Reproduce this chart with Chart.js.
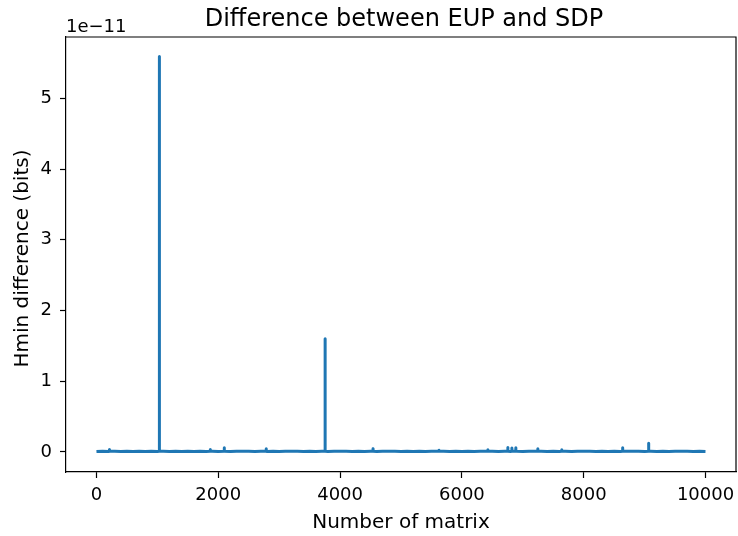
<!DOCTYPE html>
<html lang="en">
<head>
    <meta charset="UTF-8">
    <title>Difference between EUP and SDP</title>
    <script src="https://cdn.jsdelivr.net/npm/chart.js"></script>
    <style>
        body { margin: 0; background: #fff; }
        #wrap { width: 738px; height: 536px; }
    </style>
</head>
<body>
<div id="wrap"><canvas id="diffChart" width="738" height="536"></canvas></div>
<script>
    // values in units of 1e-11 bits
    // baseline, sampled every 100 matrices
    const baseX = [];
    for (let i = 0; i <= 99; i++) baseX.push(i * 100);
    baseX.push(9999);
    const baseY = [
        0.006, 0.010, 0.007, 0.011, 0.008, 0.010, 0.006, 0.012, 0.008, 0.010,
        0.007, 0.011, 0.008, 0.009, 0.006, 0.011, 0.008, 0.010, 0.007, 0.012,
        0.008, 0.010, 0.006, 0.011, 0.009, 0.010, 0.007, 0.011, 0.008, 0.012,
        0.006, 0.010, 0.009, 0.011, 0.007, 0.010, 0.008, 0.012, 0.006, 0.011,
        0.009, 0.010, 0.007, 0.011, 0.008, 0.010, 0.006, 0.012, 0.009, 0.010,
        0.007, 0.011, 0.008, 0.010, 0.006, 0.011, 0.009, 0.012, 0.007, 0.010,
        0.008, 0.011, 0.006, 0.010, 0.009, 0.012, 0.007, 0.010, 0.008, 0.011,
        0.006, 0.012, 0.009, 0.010, 0.007, 0.011, 0.008, 0.010, 0.006, 0.012,
        0.009, 0.010, 0.007, 0.011, 0.008, 0.012, 0.006, 0.010, 0.009, 0.011,
        0.007, 0.010, 0.008, 0.012, 0.006, 0.010, 0.009, 0.011, 0.007, 0.010,
        0.008
    ];
    // spikes (with neighbouring baseline samples)
    const spikeX = [212, 213, 214, 1868, 1869, 1870, 2097, 2098, 2099, 2786, 2787, 2788,
                    1032, 1033, 1034, 3753, 3754, 3755, 4540, 4541, 4542, 5622, 5623, 5624,
                    6425, 6426, 6427, 6753, 6754, 6755, 6819, 6820, 6821, 6884, 6885, 6886,
                    7245, 7246, 7247, 7638, 7639, 7640, 8638, 8639, 8640, 9065, 9066, 9067];
    const spikeY = [0.01, 0.035, 0.01, 0.01, 0.035, 0.01, 0.01, 0.06, 0.01, 0.01, 0.045, 0.01,
                    0.01, 5.59, 0.01, 0.01, 1.60, 0.01, 0.01, 0.045, 0.01, 0.01, 0.025, 0.01,
                    0.01, 0.03, 0.01, 0.01, 0.065, 0.01, 0.01, 0.055, 0.01, 0.01, 0.06, 0.01,
                    0.01, 0.045, 0.01, 0.01, 0.03, 0.01, 0.01, 0.06, 0.01, 0.01, 0.125, 0.01];

    const xTicks = [0, 2000, 4000, 6000, 8000, 10000];
    const yTicks = [0, 1, 2, 3, 4, 5];

    const points = baseX.map((x, i) => ({ x: x, y: baseY[i] }))
        .concat(spikeX.map((x, i) => ({ x: x, y: spikeY[i] })))
        .sort((a, b) => a.x - b.x);

    const FONT = "'DejaVu Sans', sans-serif";

    // title, axis labels, offset text and top/right spines
    const decor = {
        id: 'decor',
        afterDraw(chart) {
            const c = chart.ctx, a = chart.chartArea;
            c.save();
            c.strokeStyle = '#000';
            c.lineWidth = 1.2;
            c.beginPath();
            c.moveTo(a.left, a.top); c.lineTo(a.right, a.top); c.lineTo(a.right, a.bottom);
            c.stroke();

            c.fillStyle = '#000';
            c.textAlign = 'center';
            c.textBaseline = 'alphabetic';
            c.font = '24px ' + FONT;
            c.fillText('Difference between EUP and SDP', (a.left + a.right) / 2 + 3, 26);

            c.font = '20px ' + FONT;
            c.fillText('Number of matrix', (a.left + a.right) / 2, 528);

            c.font = '18px ' + FONT;
            c.textAlign = 'left';
            c.fillText('1e\u221211', 66, 32);

            c.font = '20px ' + FONT;
            c.translate(28, (a.top + a.bottom) / 2 + 4);
            c.rotate(-Math.PI / 2);
            c.textAlign = 'center';
            c.fillText('Hmin difference (bits)', 0, 0);
            c.restore();
        }
    };

    new Chart(document.getElementById('diffChart'), {
        type: 'line',
        data: {
            datasets: [{
                data: points,
                borderColor: '#1f77b4',
                borderWidth: 3,
                borderJoinStyle: 'round',
                pointRadius: 0,
                tension: 0,
                fill: false
            }]
        },
        options: {
            responsive: false,
            animation: false,
            devicePixelRatio: 1,
            layout: { padding: { top: 37, right: 2, left: 0, bottom: 0 } },
            plugins: { legend: { display: false }, tooltip: { enabled: false } },
            scales: {
                x: {
                    type: 'linear',
                    min: -500,
                    max: 10500,
                    afterBuildTicks: axis => { axis.ticks = xTicks.map(v => ({ value: v })); },
                    afterFit: axis => { axis.height = 64; axis.paddingLeft = 0; axis.paddingRight = 0; },
                    grid: { drawOnChartArea: false, color: '#000', tickLength: 6, tickWidth: 1.2 },
                    border: { display: true, color: '#000', width: 1.2 },
                    ticks: { color: '#000', font: { family: FONT, size: 18 }, padding: 7, maxRotation: 0,
                             callback: v => String(v) }
                },
                y: {
                    min: -0.283,
                    max: 5.867,
                    afterBuildTicks: axis => { axis.ticks = yTicks.map(v => ({ value: v })); },
                    afterFit: axis => { axis.width = 66; axis.paddingTop = 0; axis.paddingBottom = 0; },
                    grid: { drawOnChartArea: false, color: '#000', tickLength: 6, tickWidth: 1.2 },
                    border: { display: true, color: '#000', width: 1.2 },
                    ticks: { color: '#000', font: { family: FONT, size: 18 }, padding: 8, callback: v => String(v) }
                }
            }
        },
        plugins: [decor]
    });
</script>
</body>
</html>
